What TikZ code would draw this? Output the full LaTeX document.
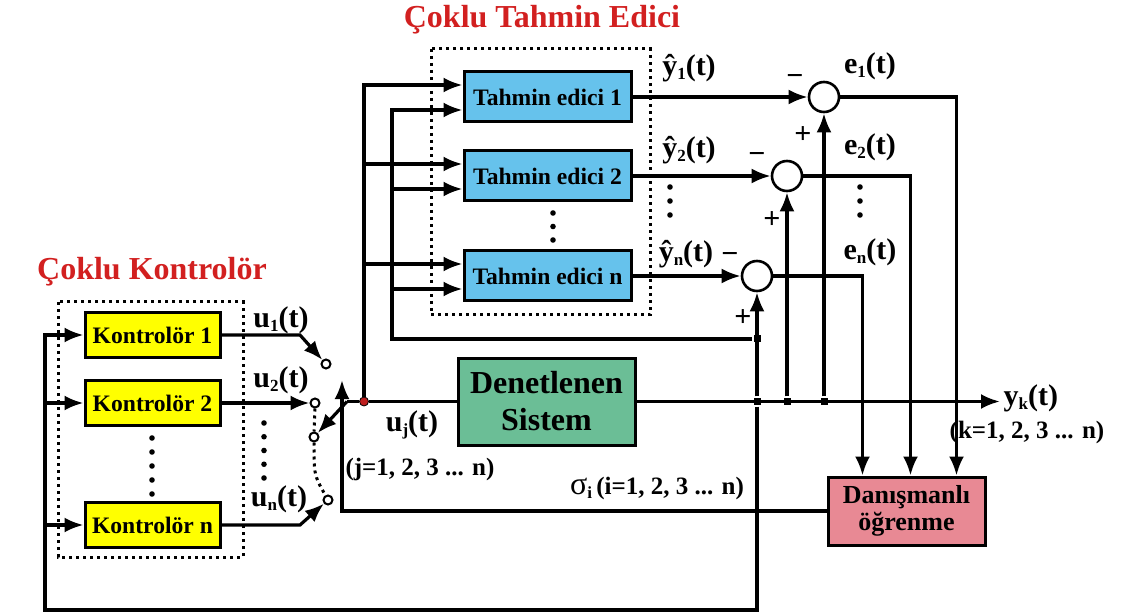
\documentclass[tikz,border=0pt]{standalone}
\usepackage{fontspec}
\setmainfont{Liberation Serif}
\usepackage{tikz}
\usetikzlibrary{arrows.meta,positioning,calc}
\definecolor{ctrlyel}{RGB}{255,255,0}
\definecolor{estblue}{RGB}{102,194,236}
\definecolor{plantgrn}{RGB}{107,190,150}
\definecolor{learnpink}{RGB}{232,137,148}
\definecolor{titlered}{RGB}{210,32,32}
\definecolor{dotred}{RGB}{190,30,30}
\newcommand{\ssub}[1]{\raisebox{-2.2pt}{\fontsize{8.5}{8.5}\selectfont #1}}

\begin{document}
\begin{tikzpicture}[x=0.5pt,y=-0.5pt,line width=1.6pt,font=\bfseries,box/.style={draw,line width=1.5pt,align=center,inner sep=0pt,font=\bfseries\fontsize{11.8}{13}\selectfont},ctrl/.style={box,fill=ctrlyel,minimum width=67.5pt,minimum height=22.5pt},est/.style={box,fill=estblue,minimum width=83.5pt,minimum height=25pt},plant/.style={box,fill=plantgrn,minimum width=88.5pt,minimum height=43.5pt,font=\bfseries\fontsize{16}{18.5}\selectfont},learn/.style={box,fill=learnpink,minimum width=78.5pt,minimum height=34pt,font=\bfseries\fontsize{13}{13.5}\selectfont},sum/.style={draw,circle,fill=white,minimum size=15pt,inner sep=0pt,line width=1.3pt},contact/.style={draw,circle,fill=white,minimum size=4.5pt,inner sep=0pt,line width=1pt},jdot/.style={fill,inner sep=0pt,minimum size=3.5pt},lbl/.style={font=\bfseries\fontsize{15}{17}\selectfont,inner sep=1pt},small/.style={font=\bfseries\fontsize{12.5}{14}\selectfont,inner sep=1pt},title/.style={text=titlered,font=\bfseries\fontsize{16}{18}\selectfont},arr/.style={-{Latex[length=9.5pt,width=7.5pt]}},grp/.style={dotted,line width=1.5pt}]
\useasboundingbox (0,0) rectangle (1121,615);
\node[title] (ttl1) at (542,20) {Çoklu Tahmin Edici};
\node[title] (ttl2) at (152,272) {Çoklu Kontrolör};
\node[ctrl] (k1) at (152.5,335) {Kontrolör 1};
\node[ctrl] (k2) at (152.5,403) {Kontrolör 2};
\node[ctrl] (kn) at (152.5,525) {Kontrolör n};
\node[est] (t1) at (547.5,97) {Tahmin edici 1};
\node[est] (t2) at (547.5,176) {Tahmin edici 2};
\node[est] (tn) at (547.5,276) {Tahmin edici n};
\node[plant] (sys) at (546.5,401.5) {Denetlenen\\Sistem};
\node[learn] (dan) at (906.5,511) {Danışmanlı\\öğrenme};
\node[sum] (s1) at (824,97) {};
\node[sum] (s2) at (787,176) {};
\node[sum] (sn) at (757,276) {};
\node[contact] (c1) at (326,364) {};
\node[contact] (c2) at (315,403) {};
\node[contact] (c3) at (314,437) {};
\node[contact] (cn) at (328,500) {};
\node[jdot] (ya) at (757,401.5) {};
\node[jdot] (jy2) at (787,401.5) {};
\node[jdot] (jy1) at (824,401.5) {};
\node[jdot] (jn) at (757,339) {};
\node[circle,fill=dotred,draw=black,line width=0.4pt,inner sep=0pt,minimum size=4.5pt] (rd) at (364,401.5) {};
% labels
\node[lbl] (lu1) at (281,320) {u\ssub{1}(t)};
\node[lbl] (lu2) at (281,380) {u\ssub{2}(t)};
\node[lbl] (lun) at (279,499) {u\ssub{n}(t)};
\node[lbl] (luj) at (412,425) {u\ssub{j}(t)};
\node[small] (lj) at (420,469) {(j=1, 2, 3 ... n)};
\node[small] (lsig) at (657,488) {{\mdseries\fontsize{16}{16}\selectfont σ}\ssub{i}\,(i=1, 2, 3 ... n)};
\node[lbl] (ly1) at (689,68) {\^{y}\ssub{1}(t)};
\node[lbl] (ly2) at (689,150) {\^{y}\ssub{2}(t)};
\node[lbl] (lyn) at (686,254) {\^{y}\ssub{n}(t)};
\node[lbl] (le1) at (870,66) {e\ssub{1}(t)};
\node[lbl] (le2) at (870,147) {e\ssub{2}(t)};
\node[lbl] (len) at (870,252) {e\ssub{n}(t)};
\node[lbl,anchor=west] (lyk) at (1000,398) {y\ssub{k}(t)};
\node[small] (lk) at (1027,432) {(k=1, 2, 3 ... n)};
\node[lbl] (m1) at (795,80) {−};
\node[lbl] (m2) at (757,158) {−};
\node[lbl] (mn) at (730,258) {−};
\node[lbl] (p1) at (803,135) {+};
\node[lbl] (p2) at (772,220) {+};
\node[lbl] (pn) at (743,318) {+};
% groups
\draw[grp] (58,302) rectangle (243,557);
\draw[grp] (431,49) rectangle (650,315);
\foreach \y in {438,452,...,494} \fill (152,\y) circle (1.4pt);
\foreach \y in {423,436.75,...,479} \fill (264,\y) circle (1.4pt);
\foreach \y in {213,226.5,240} \fill (553,\y) circle (1.4pt);
\foreach \y in {187,201,215} \fill (670,\y) circle (1.4pt);
\foreach \y in {187,201,215} \fill (860,\y) circle (1.4pt);
% feedback to controllers
\coordinate (fb) at (45,610);
\draw[arr] (ya) |- (fb) |- (k1);
\draw[arr] (fb |- k2) -- (k2);
\draw[arr] (fb |- kn) -- (kn);
% switch
\coordinate (b1) at (300,335);
\coordinate (bn) at (300,525);
\coordinate (piv) at (347,401.5);
\coordinate (sw) at (342,380);
\draw[arr] (k1) -- (b1) -- (c1);
\draw[arr] (k2) -- (c2);
\draw[arr] (kn) -- (bn) -- (cn);
\draw[dotted,line width=1.5pt] (c2) -- (c3) .. controls (314,475) .. (cn);
\draw[arr] (piv) -- (c3);
\draw (piv) -- (rd) -- (sys);
\draw[arr] (sys) -- (sys -| lyk.west);
\draw[arr] (dan) -| (sw);
% estimator inputs
\coordinate (t1a) at ([yshift=6pt]t1.west);
\coordinate (t2a) at ([yshift=6pt]t2.west);
\coordinate (tna) at ([yshift=6pt]tn.west);
\coordinate (t1b) at ([yshift=-6.5pt]t1.west);
\coordinate (t2b) at ([yshift=-6.5pt]t2.west);
\coordinate (tnb) at ([yshift=-6.5pt]tn.west);
\draw[arr] (rd) |- (t1a);
\draw[arr] (rd |- t2a) -- (t2a);
\draw[arr] (rd |- tna) -- (tna);
\coordinate (fbT) at (392,339);
\draw[arr] (jn) -- (fbT) |- (t1b);
\draw[arr] (fbT |- t2b) -- (t2b);
\draw[arr] (fbT |- tnb) -- (tnb);
% errors
\draw[arr] (t1) -- (s1);
\draw[arr] (t2) -- (s2);
\draw[arr] (tn) -- (sn);
\draw[arr] (jy1) -- (s1);
\draw[arr] (jy2) -- (s2);
\draw[arr] (ya) -- (sn);
\coordinate (d1) at ([xshift=25pt]dan.north);
\coordinate (d2) at ([xshift=2pt]dan.north);
\coordinate (dn) at ([xshift=-22pt]dan.north);
\draw[arr] (s1) -| (d1);
\draw[arr] (s2) -| (d2);
\draw[arr] (sn) -| (dn);
\end{tikzpicture}
\end{document}
